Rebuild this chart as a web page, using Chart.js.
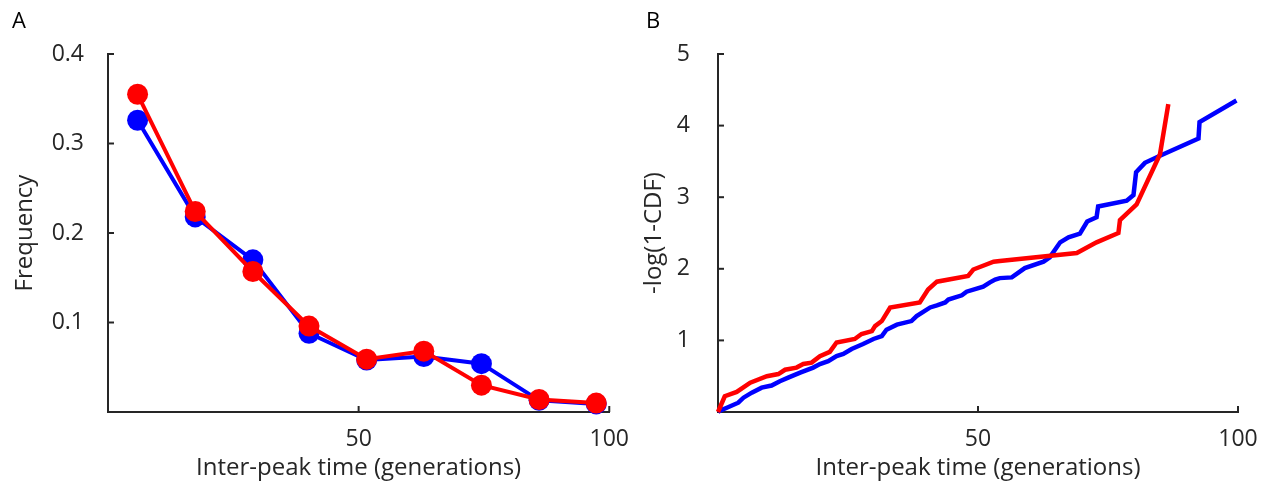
<!DOCTYPE html>
<html>
<head>
<meta charset="utf-8">
<script src="https://cdn.jsdelivr.net/npm/chart.js@4.4.1/dist/chart.umd.min.js"></script>
<style>
  body{margin:0;background:#fff;width:1270px;height:488px;position:relative;overflow:hidden;font-family:"Open Sans",sans-serif;}
  .panel{position:absolute;top:0;width:635px;height:488px;}
  .tag{position:absolute;top:4px;font-size:22px;color:#000;}
</style>
</head>
<body>
<div class="panel" style="left:0"><canvas id="chart-a" width="635" height="488"></canvas></div>
<div class="panel" style="left:635px"><canvas id="chart-b" width="635" height="488"></canvas></div>
<div class="tag" style="left:12px">A</div>
<div class="tag" style="left:646px">B</div>
<script>
// A : histogramme des temps inter-pics
const binCenters = [5.9, 17.4, 28.9, 40.1, 51.6, 63.0, 74.5, 86.0, 97.4];
const freqBlue   = [0.326, 0.218, 0.170, 0.088, 0.058, 0.062, 0.054, 0.013, 0.009];
const freqRed    = [0.355, 0.224, 0.157, 0.096, 0.059, 0.068, 0.030, 0.014, 0.010];

// B : -log(1-CDF)
const cdfBlueX = [0, 0.4, 1.7, 3.9, 4.9, 6.5, 8.4, 10.3, 11.9, 13.5, 15.8, 18.3, 19.6, 21.2, 22.8, 24.1, 25.7, 27.9, 29.9, 31.5, 32.4, 34.4, 37.2, 38.2, 40.8, 42.1, 43.7, 44.3, 46.9, 47.8, 51.0, 52.3, 53.3, 54.2, 56.5, 59.0, 62.6, 63.8, 65.8, 67.4, 69.6, 71.0, 72.8, 73.1, 78.6, 79.9, 80.4, 82.1, 85.0, 92.4, 92.6, 99.7];
const cdfBlueY = [0, 0.02, 0.06, 0.13, 0.20, 0.27, 0.34, 0.37, 0.43, 0.48, 0.55, 0.62, 0.67, 0.71, 0.78, 0.81, 0.88, 0.95, 1.02, 1.06, 1.15, 1.22, 1.27, 1.34, 1.46, 1.49, 1.53, 1.57, 1.63, 1.68, 1.75, 1.81, 1.85, 1.87, 1.88, 2.01, 2.10, 2.16, 2.37, 2.44, 2.49, 2.66, 2.72, 2.87, 2.95, 3.03, 3.35, 3.48, 3.58, 3.82, 4.05, 4.35];
const cdfRedX  = [0, 1.3, 3.6, 6.2, 9.4, 11.6, 12.9, 15.1, 16.4, 18.0, 19.6, 21.5, 22.8, 26.3, 27.6, 29.6, 30.2, 31.5, 33.1, 38.8, 40.4, 42.1, 48.1, 49.1, 53.0, 54.2, 69.0, 72.8, 77.0, 77.3, 80.5, 85.0, 86.6];
const cdfRedY  = [0, 0.22, 0.28, 0.41, 0.50, 0.53, 0.59, 0.62, 0.67, 0.69, 0.78, 0.84, 0.97, 1.02, 1.09, 1.13, 1.20, 1.27, 1.46, 1.53, 1.71, 1.82, 1.90, 1.99, 2.10, 2.11, 2.22, 2.37, 2.50, 2.68, 2.90, 3.60, 4.30];

const xTicks = [50, 100];
const yTicksA = [0.1, 0.2, 0.3, 0.4];
const yTicksB = [1, 2, 3, 4, 5];

const AXIS = "#262626";
const TICK_FONT  = {family: "'Open Sans', sans-serif", size: 23};
const TITLE_FONT = {family: "'Open Sans', sans-serif", size: 24};

function pts(xs, ys){ return xs.map((x,i)=>({x, y: ys[i]})); }

// ticks vers l'intérieur, façon MATLAB
const innerTicks = {
  id: "innerTicks",
  afterDraw(chart){
    const {ctx, chartArea:a, scales:{x, y}} = chart;
    ctx.save(); ctx.strokeStyle = AXIS; ctx.lineWidth = 2;
    x.ticks.forEach(t => { if(!t.value) return; const px = x.getPixelForValue(t.value);
      ctx.beginPath(); ctx.moveTo(px, a.bottom); ctx.lineTo(px, a.bottom-6); ctx.stroke(); });
    y.ticks.forEach(t => { if(!t.value) return; const py = y.getPixelForValue(t.value);
      ctx.beginPath(); ctx.moveTo(a.left, py); ctx.lineTo(a.left+6, py); ctx.stroke(); });
    ctx.restore();
  }
};

function axes(yMax, yTicks, yTitle, yWidth, titlePad, tickPad){
  return {
    x: {
      type: "linear", min: 0, max: 100,
      afterBuildTicks: s => { s.ticks = [0, ...xTicks].map(v => ({value: v})); },
      afterFit: s => { s.height = 76; },
      grid: {display: false},
      border: {display: true, color: AXIS, width: 2},
      ticks: {color: AXIS, font: TICK_FONT, padding: 6, maxRotation: 0, callback: v => v === 0 ? "" : v},
      title: {display: true, text: "Inter-peak time (generations)", color: AXIS, font: TITLE_FONT, padding: {top: 0, bottom: 5}}
    },
    y: {
      type: "linear", min: 0, max: yMax,
      afterBuildTicks: s => { s.ticks = [0, ...yTicks].map(v => ({value: v})); },
      afterFit: s => { s.width = yWidth; },
      grid: {display: false},
      border: {display: true, color: AXIS, width: 2},
      ticks: {color: AXIS, font: TICK_FONT, padding: tickPad, callback: v => v === 0 ? "" : v},
      title: {display: true, text: yTitle, color: AXIS, font: TITLE_FONT, padding: {top: titlePad, bottom: 0}}
    }
  };
}

new Chart(document.getElementById("chart-a").getContext("2d"), {
  type: "scatter",
  data: { datasets: [
    {data: pts(binCenters, freqBlue), showLine: true, borderColor: "#0000ff", backgroundColor: "#0000ff", borderWidth: 4, pointRadius: 10.5, pointBorderWidth: 0, clip: false, order: 2},
    {data: pts(binCenters, freqRed),  showLine: true, borderColor: "#ff0000", backgroundColor: "#ff0000", borderWidth: 4, pointRadius: 10.5, pointBorderWidth: 0, clip: false, order: 1}
  ]},
  options: {
    responsive: false, animation: false, devicePixelRatio: 1,
    layout: {padding: {top: 54, right: 22, left: 0, bottom: 0}},
    plugins: {legend: {display: false}, tooltip: {enabled: false}},
    scales: axes(0.4, yTicksA, "Frequency", 108, 11, 16)
  },
  plugins: [innerTicks]
});

new Chart(document.getElementById("chart-b").getContext("2d"), {
  type: "scatter",
  data: { datasets: [
    {data: pts(cdfBlueX, cdfBlueY), showLine: true, borderColor: "#0000ff", borderWidth: 4.5, pointRadius: 0, tension: 0, clip: false, order: 2},
    {data: pts(cdfRedX, cdfRedY),   showLine: true, borderColor: "#ff0000", borderWidth: 4.5, pointRadius: 0, tension: 0, clip: false, order: 1}
  ]},
  options: {
    responsive: false, animation: false, devicePixelRatio: 1,
    layout: {padding: {top: 54, right: 32, left: 0, bottom: 0}},
    plugins: {legend: {display: false}, tooltip: {enabled: false}},
    scales: axes(5, yTicksB, "-log(1-CDF)", 83, 5, 20)
  },
  plugins: [innerTicks]
});
</script>
</body>
</html>
